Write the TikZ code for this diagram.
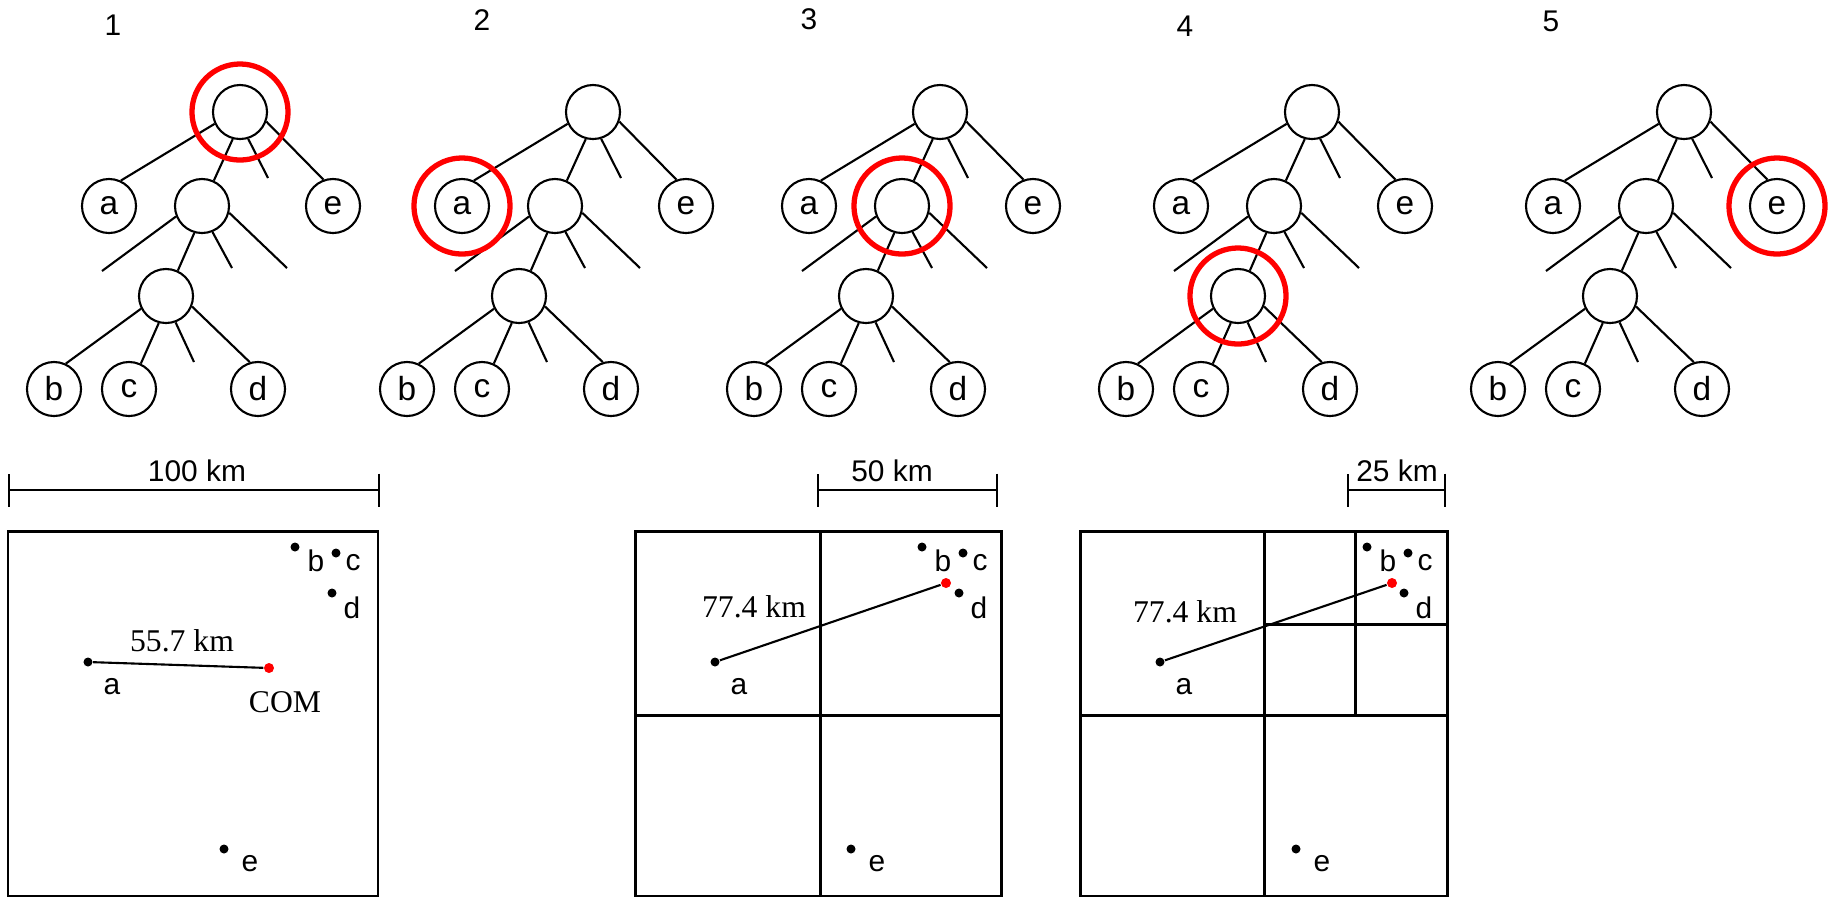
\documentclass[tikz,border=0pt]{standalone}
\usepackage{fontspec}
\setmainfont{Liberation Sans}
\newfontfamily\timesfont{Liberation Serif}
\usepackage{tikz}
\usetikzlibrary{positioning}
\usetikzlibrary{arrows.meta}

\begin{document}
\begin{tikzpicture} [
    x=0.01cm, y=-0.01cm,            % one unit is one pixel, y runs down
    ]
% -------------------------------------------------
\tikzset{
  cell/.style={draw, circle, line width=0.6pt, minimum size=5.4mm, inner sep=0pt, font=\fontsize{9.5}{10}\selectfont},
  line/.style={draw, line width=0.6pt},
  ring/.style={draw=red, circle, line width=1.5pt, minimum size=9.6mm, inner sep=0pt},
  frame/.style={draw, line width=0.85pt},
  body/.style={circle, fill=black, inner sep=0pt, minimum size=0.9mm},
  com/.style={circle, fill=red, inner sep=0pt, minimum size=1mm},
  lbl/.style={inner sep=0pt, font=\fontsize{8.5}{10}\selectfont},
  dist/.style={inner sep=0pt, font=\timesfont\fontsize{9}{10}\selectfont},
  ruler/.style={draw, line width=0.7pt, {Bar[width=3.3mm]}-{Bar[width=3.3mm]}}
}

    \useasboundingbox (0,0) rectangle (1839,896);

    % the same tree, five times
    \foreach \tr/\dx in {1/0, 2/353, 3/700, 4/1072, 5/1444} {
      \begin{scope}[shift={(\dx,0)}]
        \node [cell] (t\tr-root) at (240,112) {};
        \node [cell] (t\tr-a) at (109,206) {a};
        \node [cell] (t\tr-n1) at (202,206) {};
        \node [cell] (t\tr-e) at (333,206) {e};
        \node [cell] (t\tr-n2) at (166,296) {};
        \node [cell] (t\tr-b) at (54,389) {b};
        \node [cell] (t\tr-c) at (129,389) {c};
        \node [cell] (t\tr-d) at (258,389) {d};
        \coordinate (t\tr-s0) at (268,178);           % empty quadrants
        \coordinate (t\tr-s1) at (102,271);
        \coordinate (t\tr-s2) at (232,268);
        \coordinate (t\tr-s3) at (287,268);
        \coordinate (t\tr-s4) at (194,362);

        \path [line] (t\tr-root.205) -- (t\tr-a.65);
        \path [line] (t\tr-root.255) -- (t\tr-n1.65);
        \path [line] (t\tr-root.287) -- (t\tr-s0);
        \path [line] (t\tr-root.340) -- (t\tr-e.110);

        \path [line] (t\tr-n1.202) -- (t\tr-s1);
        \path [line] (t\tr-n1.254) -- (t\tr-n2.65);
        \path [line] (t\tr-n1.292) -- (t\tr-s2);
        \path [line] (t\tr-n1.346) -- (t\tr-s3);

        \path [line] (t\tr-n2.207) -- (t\tr-b.65);
        \path [line] (t\tr-n2.255) -- (t\tr-c.65);
        \path [line] (t\tr-n2.290) -- (t\tr-s4);
        \path [line] (t\tr-n2.338) -- (t\tr-d.107);
      \end{scope}
    }

    \node [lbl] (num1) at (113,25) {1};
    \node [lbl] (num2) at (482,20) {2};
    \node [lbl] (num3) at (809,19) {3};
    \node [lbl] (num4) at (1185,26) {4};
    \node [lbl] (num5) at (1551,21) {5};

    \node [ring] (hl1) at (t1-root) {};           % step 1: root
    \node [ring] (hl2) at (t2-a) {};              % step 2: leaf a
    \node [ring] (hl3) at (t3-n1) {};             % step 3: inner node
    \node [ring] (hl4) at (t4-n2) {};             % step 4: inner node
    \node [ring] (hl5) at (t5-e) {};              % step 5: leaf e

    % ------------------------------------------------- boxes
    \draw [frame] (8,531) rectangle (378,896.5);                    % box 1

    \draw [frame] (635,531) rectangle (1001,896.5);                 % box 2
    \draw [frame] (820,531) -- (820,896);
    \draw [frame] (635,715) -- (1001,715);

    \draw [frame] (1080,531) rectangle (1447,896.5);                % box 3
    \draw [frame] (1264,531) -- (1264,896);
    \draw [frame] (1080,715) -- (1447,715);
    \draw [frame] (1355,531) -- (1355,715);
    \draw [frame] (1264,624) -- (1447,624);

    % scale bars
    \coordinate (r1l) at (8,490);
    \coordinate (r1r) at (380,490);
    \coordinate (r2l) at (817,490);
    \coordinate (r2r) at (998,490);
    \coordinate (r3l) at (1347,490);
    \coordinate (r3r) at (1446,490);
    \path [ruler] (r1l) -- (r1r);
    \path [ruler] (r2l) -- (r2r);
    \path [ruler] (r3l) -- (r3r);
    \node [lbl] (r1t) at (197,471) {100 km};
    \node [lbl] (r2t) at (892,471) {50 km};
    \node [lbl] (r3t) at (1397,471) {25 km};

    % bodies, same place in each box
    \foreach \p/\dx in {p1/8, p2/635, p3/1080} {
      \begin{scope}[shift={(\dx,0)}]
        \node [body] (\p a) at (80,662) {};
        \node [body] (\p b) at (287,547) {};
        \node [body] (\p c) at (328,553) {};
        \node [body] (\p d) at (324,593) {};
        \node [body] (\p e) at (216,849) {};
        \node [lbl] (\p la) at (104,687) {a};
        \node [lbl] (\p lb) at (308,561) {b};
        \node [lbl] (\p lc) at (345,563) {c};
        \node [lbl] (\p ld) at (344,608) {d};
        \node [lbl] (\p le) at (242,864) {e};
      \end{scope}
    }

    \node [com] (com1) at (269,668) {};
    \node [com] (com2) at (946,583) {};
    \node [com] (com3) at (1392,583) {};

    \path [line] (p1a) -- (com1);
    \path [line] (p2a) -- (com2);
    \path [line] (p3a) -- (com3);

    \node [dist] (d1) at (182,641) {55.7 km};
    \node [dist] (d2) at (754,607) {77.4 km};
    \node [dist] (d3) at (1185,612) {77.4 km};
    \node [dist] (comlbl) at (285,702) {COM};

\end{tikzpicture}
\end{document}
